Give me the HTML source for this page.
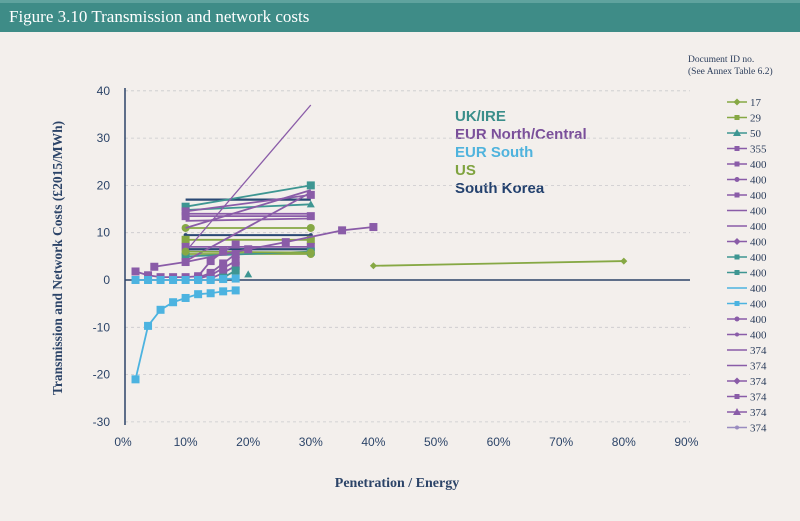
<!DOCTYPE html>
<html><head><meta charset="utf-8"><style>
body{margin:0;width:800px;height:516px;background:#f3efec;overflow:hidden;font-family:"Liberation Serif",serif}
</style></head><body>
<svg id="s" width="800" height="516" xmlns="http://www.w3.org/2000/svg">
<rect x="0" y="0" width="800" height="32" fill="#3e8c87"/>
<rect x="0" y="0" width="800" height="3" fill="#5fa39e"/>
<text x="9" y="22" font-family="Liberation Serif,serif" font-size="17" fill="#fff">Figure 3.10 Transmission and network costs</text>
<text x="688" y="62" font-family="Liberation Serif,serif" font-size="9.5" fill="#2c3e5c">Document ID no.</text>
<text x="688" y="74" font-family="Liberation Serif,serif" font-size="9.5" fill="#2c3e5c">(See Annex Table 6.2)</text>
<text x="397" y="487" text-anchor="middle" font-family="Liberation Serif,serif" font-size="14" font-weight="bold" fill="#2c4468">Penetration / Energy</text>
<text transform="translate(62,258) rotate(-90)" text-anchor="middle" font-family="Liberation Serif,serif" font-size="13.5" font-weight="bold" fill="#2c4468">Transmission and Network Costs (£2015/MWh)</text>
<g font-family="Liberation Sans,sans-serif" font-size="15" font-weight="bold">
<text x="455" y="121" fill="#3a8e8a">UK/IRE</text>
<text x="455" y="139" fill="#7a4f9a">EUR North/Central</text>
<text x="455" y="157" fill="#4fb3dd">EUR South</text>
<text x="455" y="175" fill="#7fa33f">US</text>
<text x="455" y="193" fill="#23416e">South Korea</text>
</g>
<g id="g"></g>
</svg>
<script>
var g=document.getElementById('g'),h='';
function X(x){return 123+x*6.26}function Y(y){return 280-y*4.73}
for(var v=40;v>=-30;v-=10){var y=Y(v);if(v!=0)h+='<line x1="125" x2="690" y1="'+y+'" y2="'+y+'" stroke="#c9c9cc" stroke-dasharray="3,3" stroke-width="0.8"/>';
h+='<text x="110" y="'+(y+4)+'" text-anchor="end" font-family="Liberation Sans,sans-serif" font-size="12" fill="#2c4468">'+v+'</text>';}
for(var i=0;i<=9;i++)h+='<text x="'+X(i*10)+'" y="446" text-anchor="middle" font-family="Liberation Sans,sans-serif" font-size="12" fill="#2c4468">'+(i*10)+'%</text>';
h+='<line x1="125" x2="125" y1="88" y2="425" stroke="#2c4468" stroke-width="1.5"/>';
h+='<line x1="125" x2="690" y1="280" y2="280" stroke="#2c4468" stroke-width="1.5"/>';
function mk(t,x,y,c){if(t=='s')return '<rect x="'+(x-4)+'" y="'+(y-4)+'" width="8" height="8" fill="'+c+'"/>';
if(t=='c')return '<circle cx="'+x+'" cy="'+y+'" r="4" fill="'+c+'"/>';
if(t=='t')return '<polygon points="'+x+','+(y-4)+' '+(x-4)+','+(y+3)+' '+(x+4)+','+(y+3)+'" fill="'+c+'"/>';
if(t=='d')return '<polygon points="'+x+','+(y-3.5)+' '+(x+3.5)+','+y+' '+x+','+(y+3.5)+' '+(x-3.5)+','+y+'" fill="'+c+'"/>';
if(t=='p')return '<circle cx="'+x+'" cy="'+y+'" r="2" fill="'+c+'"/>';return '';}
function s(pts,c,t,w){var p=pts.map(function(a){return X(a[0])+','+Y(a[1])}).join(' ');
h+='<polyline points="'+p+'" fill="none" stroke="'+c+'" stroke-width="'+(w||1.8)+'"/>';pts.forEach(function(a){h+=mk(t,X(a[0]),Y(a[1]),c)});}
var P='#8a5ca8',T='#3e9692',G='#86a844',N='#2a4874',B='#4cb3e0';
s([[10,17],[30,17]],N,'',2.2);
s([[10,15.5],[30,20]],T,'s');s([[10,14.8],[30,16]],T,'t');
s([[10,14.5],[30,18]],P,'s');s([[10,14],[30,14]],P,'');s([[10,13.5],[30,13.5]],P,'s');s([[10,12.5],[30,13]],P,'');
s([[10,11],[30,11]],G,'c');s([[10,9.5],[30,9.5]],N,'p',2);s([[10,8.5],[30,8.5]],G,'s');
s([[10,7],[30,7]],P,'s');s([[10,6.5],[30,6.5]],N,'',2.2);s([[10,5.5],[30,5.5]],G,'c');s([[10,5],[30,6]],T,'s');
s([[10,4],[30,18.5]],P,'');s([[10,6],[30,37]],P,'',1.3);s([[10,11],[30,19]],P,'');s([[10,6],[30,5.8]],G,'c');
s([[2,1.8],[4,1],[6,0.6],[8,0.6],[10,0.6],[12,0.8],[14,4],[16,6],[18,7.5]],P,'s');
s([[12,0.5],[14,1.5],[16,3.5],[18,5.5]],P,'s');s([[12,0.3],[14,1],[16,2.5],[18,4]],P,'s');
s([[14,0.3],[16,1.5],[18,3]],P,'s');s([[16,0.5],[18,2]],T,'s');
s([[5,2.8],[10,3.8],[20,6.5],[26,8],[35,10.5],[40,11.2]],P,'s');
s([[2,0],[4,0],[6,0],[8,0],[10,0],[12,0],[14,0],[16,0.2],[18,0.3]],B,'s');
s([[2,-21],[4,-9.7],[6,-6.3],[8,-4.7],[10,-3.8],[12,-3],[14,-2.8],[16,-2.4],[18,-2.2]],B,'s');
s([[40,3],[80,4]],G,'d');h+=mk('t',X(20),Y(1.2),T);
var L=[['17',G,'d'],['29',G,'s'],['50',T,'t'],['355',P,'s'],['400',P,'s'],['400',P,'c'],['400',P,'s'],['400',P,''],['400',P,''],['400',P,'d'],['400',T,'s'],['400',T,'s'],['400',B,''],['400',B,'s'],['400',P,'c'],['400',P,'p'],['374',P,''],['374',P,''],['374',P,'d'],['374',P,'s'],['374',P,'t'],['374','#9a8cc0','p'],['374',P,'s']];
L=L.slice(0,22);
L.forEach(function(l,i){var y=102+i*15.5;h+='<line x1="727" x2="747" y1="'+y+'" y2="'+y+'" stroke="'+l[1]+'" stroke-width="1.5"/>';
var m=mk(l[2],737,y,l[1]);h+=m.replace(/r="4"/,'r="2.5"').replace(/width="8" height="8"/,'width="5" height="5"').replace('x="733"','x="734.5"').replace('y="'+(y-4)+'"','y="'+(y-2.5)+'"');
h+='<text x="750" y="'+(y+4)+'" font-family="Liberation Serif,serif" font-size="11" fill="#2c3e5c">'+l[0]+'</text>';});
g.innerHTML=h;
</script>
</body></html>
